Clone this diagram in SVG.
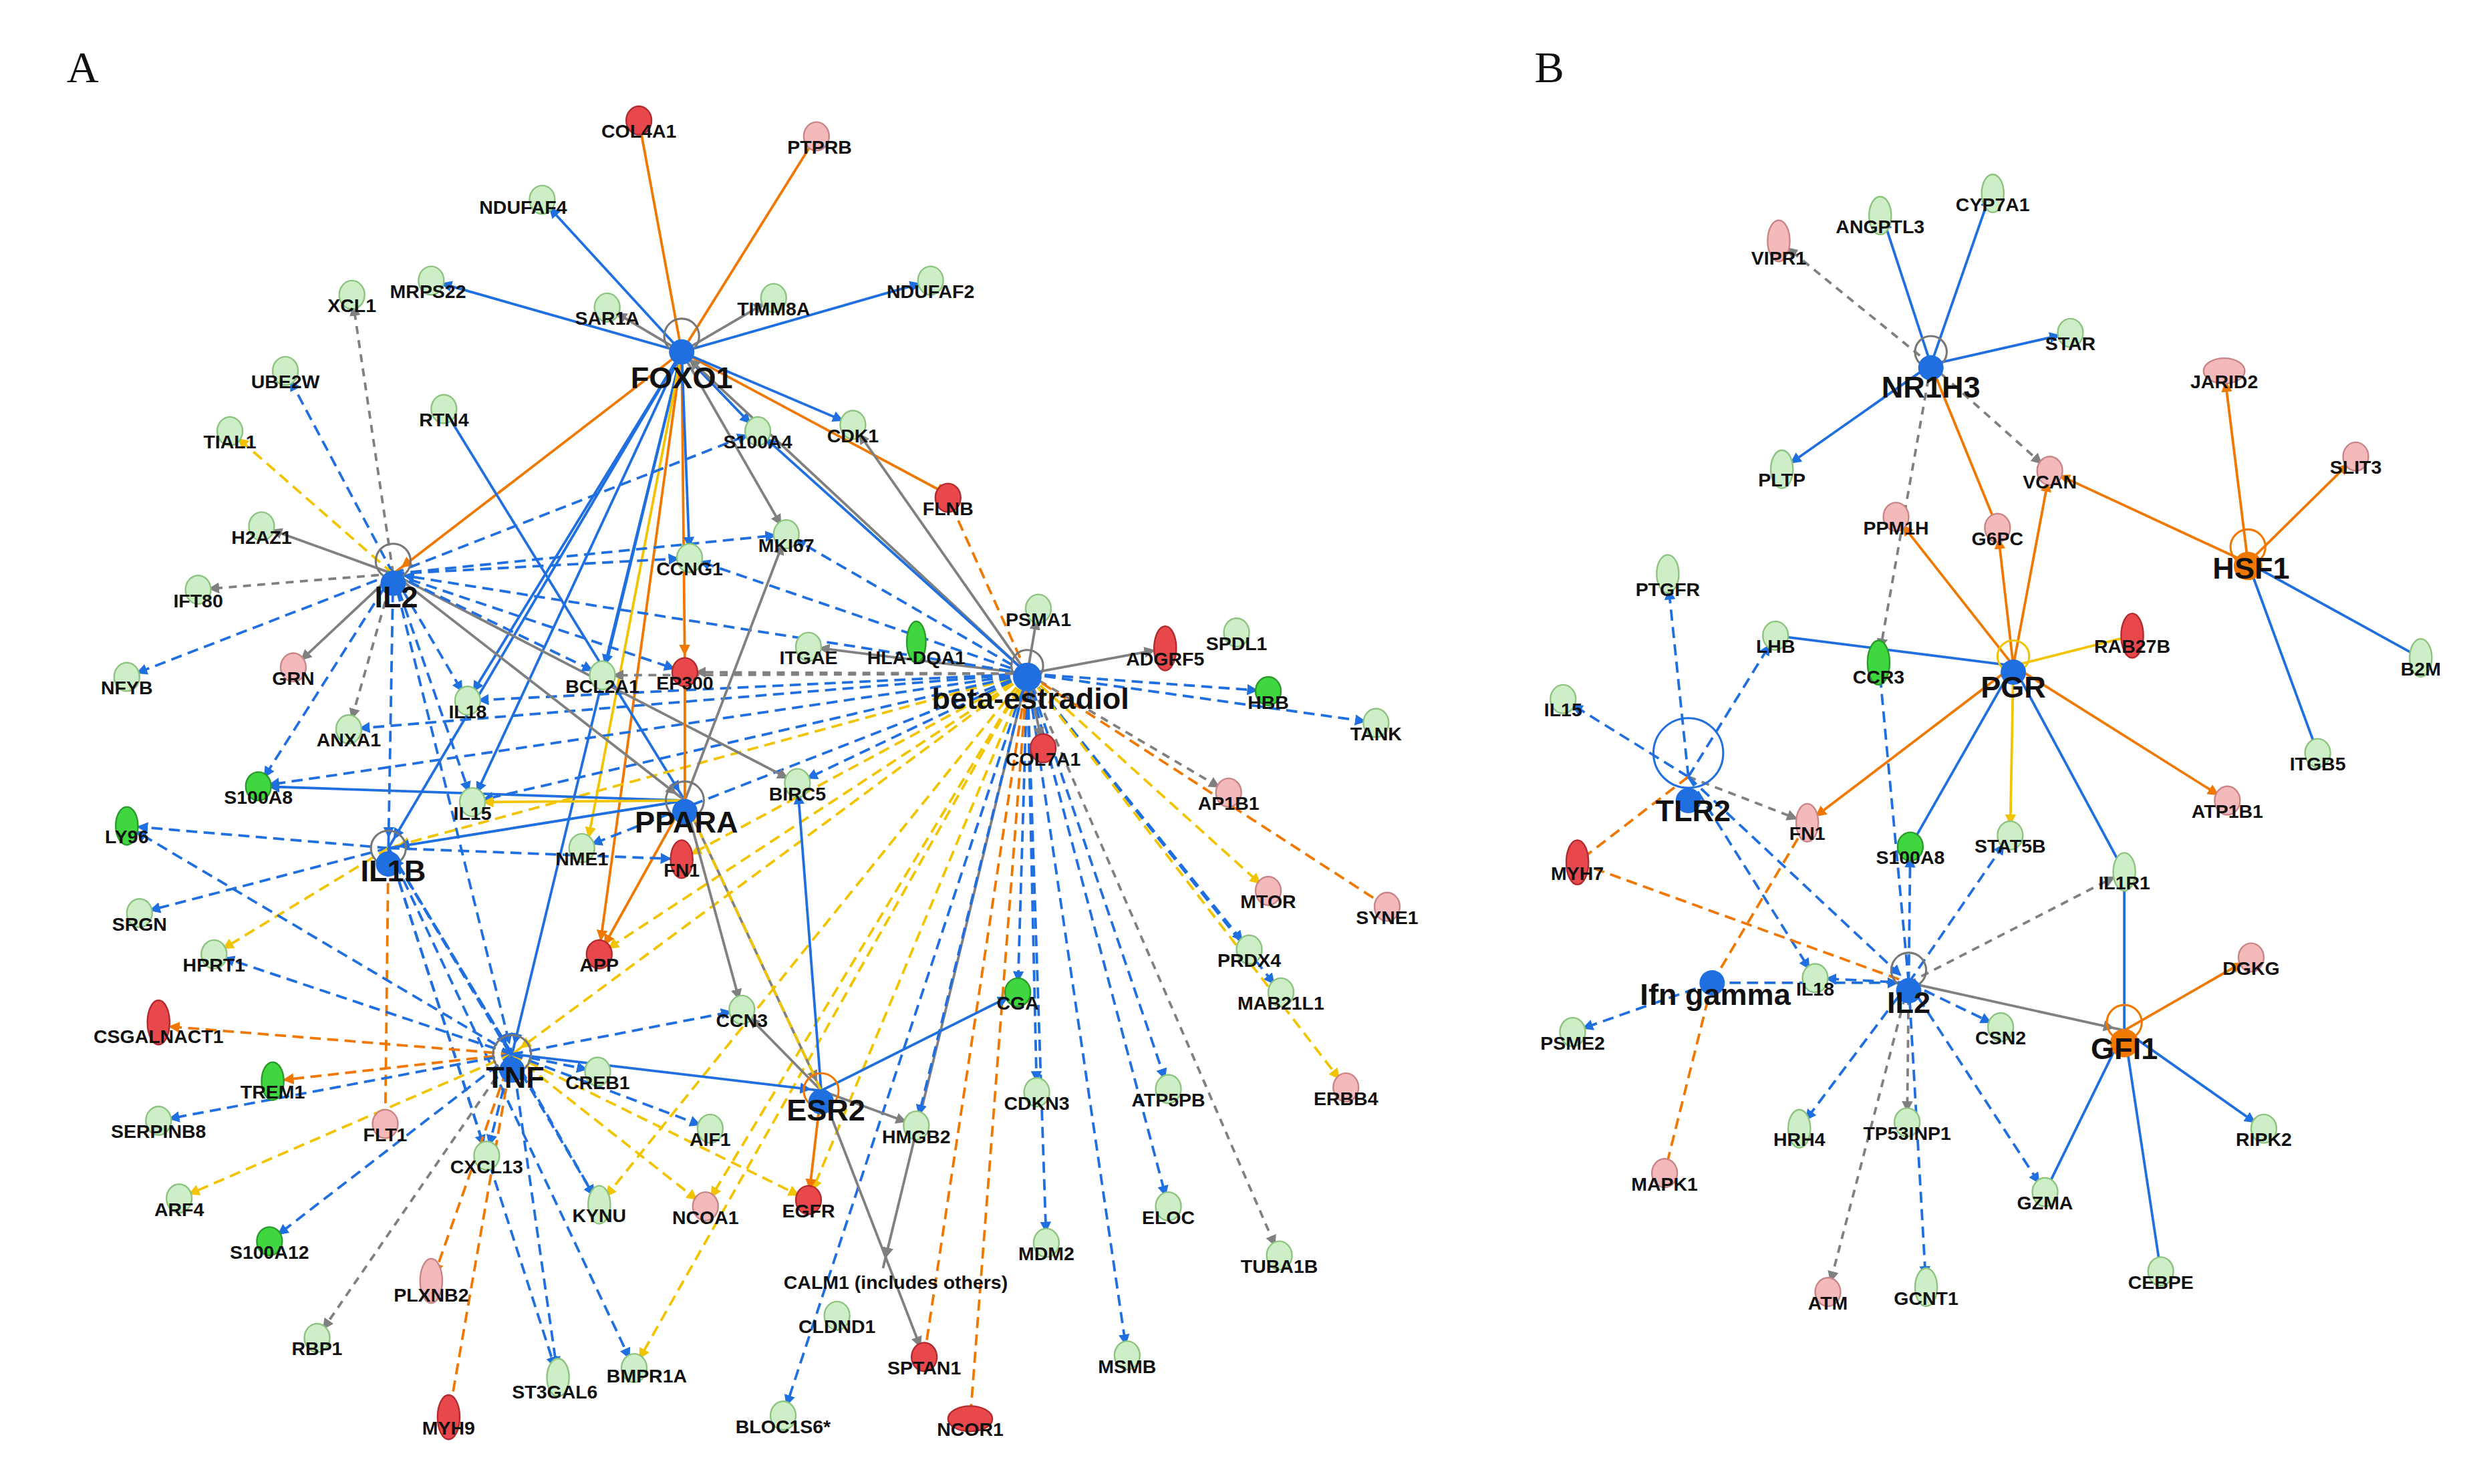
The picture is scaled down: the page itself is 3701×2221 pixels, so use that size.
<svg xmlns="http://www.w3.org/2000/svg" width="3701" height="2221" viewBox="0 0 3701 2221">
<style>
text{font-family:"Liberation Sans",Arial,sans-serif;font-weight:bold;font-size:12px;fill:#111;text-anchor:middle}
.hl{font-size:19px}
.pl{font-family:"Liberation Serif",serif;font-weight:normal;font-size:28px;text-anchor:start}
path{fill:none;stroke-width:1.6}
.b{stroke:#1f6fe0}.bd{stroke:#1f6fe0;stroke-dasharray:7 4}
.o{stroke:#f07800}.od{stroke:#f07800;stroke-dasharray:7 4}
.y{stroke:#f2c400;stroke-dasharray:7 4}.ys{stroke:#f2c400}
.g{stroke:#808080}.gd{stroke:#808080;stroke-dasharray:5 4}
.ab{marker-end:url(#ab)}.ag{marker-end:url(#ag)}.ao{marker-end:url(#ao)}.ay{marker-end:url(#ay)}
.tb{marker-end:url(#tb)}.to{marker-end:url(#to)}
.lg ellipse{fill:#cdeec6;stroke:#8cc47f}.gr ellipse{fill:#3fd63f;stroke:#2a9a2a}
.r ellipse{fill:#e8474c;stroke:#b02a2e}.p ellipse{fill:#f4b9bb;stroke:#c98486}
.hb circle{fill:#1f6fe0}.ho circle{fill:#f07800}
.loop{fill:none;stroke:#777;stroke-width:1.3}
.hb .loop,.ho .loop{fill:none}
</style>
<defs>
<marker id="ab" viewBox="0 0 10 10" refX="19" refY="5" markerWidth="7" markerHeight="7" markerUnits="userSpaceOnUse" orient="auto"><path d="M0 0L10 5L0 10z" style="fill:#1f6fe0;stroke:none"/></marker>
<marker id="ag" viewBox="0 0 10 10" refX="19" refY="5" markerWidth="7" markerHeight="7" markerUnits="userSpaceOnUse" orient="auto"><path d="M0 0L10 5L0 10z" style="fill:#808080;stroke:none"/></marker>
<marker id="ao" viewBox="0 0 10 10" refX="19" refY="5" markerWidth="7" markerHeight="7" markerUnits="userSpaceOnUse" orient="auto"><path d="M0 0L10 5L0 10z" style="fill:#f07800;stroke:none"/></marker>
<marker id="ay" viewBox="0 0 10 10" refX="19" refY="5" markerWidth="7" markerHeight="7" markerUnits="userSpaceOnUse" orient="auto"><path d="M0 0L10 5L0 10z" style="fill:#f2c400;stroke:none"/></marker>
<marker id="tb" viewBox="0 0 10 10" refX="19" refY="5" markerWidth="7" markerHeight="7" markerUnits="userSpaceOnUse" orient="auto"><path d="M9 0V10" style="stroke:#1f6fe0;stroke-width:2"/></marker>
<marker id="to" viewBox="0 0 10 10" refX="19" refY="5" markerWidth="7" markerHeight="7" markerUnits="userSpaceOnUse" orient="auto"><path d="M9 0V10" style="stroke:#f07800;stroke-width:2"/></marker>
</defs>
<rect width="3701" height="2221" fill="#fff"/>
<g transform="scale(2.3725)">
<text class="pl" x="42" y="52">A</text>
<text class="pl" x="968" y="52">B</text>
<g id="connectors">
<path class="o to" d="M430 222L403 76"/><path class="o to" d="M430 222L515 86"/><path class="o to" d="M430 222L598 312"/>
<path class="o ao" d="M430 222L248 362"/><path class="o ao" d="M430 222L432 420"/><path class="o ao" d="M430 222L378 600"/>
<path class="b ab" d="M430 222L342 126"/><path class="b ab" d="M430 222L272 177"/><path class="b ab" d="M430 222L587 177"/>
<path class="b ab" d="M430 222L538 268"/><path class="b ab" d="M430 222L478 272"/><path class="g ag" d="M430 222L488 188"/><path class="g ag" d="M430 222L383 194"/>
<path class="b ab" d="M430 222L245 535"/><path class="b ab" d="M430 222L295 442"/><path class="b ab" d="M430 222L298 506"/><path class="b ab" d="M430 222L323 665"/>
<path class="b ab" d="M430 222L380 426"/><path class="g ag" d="M430 222L496 337"/><path class="b ab" d="M430 222L435 352"/><path class="ys ay" d="M430 222L370 535"/>
<path class="b ab" d="M280 258L432 505"/>
<path class="g ag" d="M648 425L430 222"/><path class="g ag" d="M648 425L538 268"/><path class="g ag" d="M648 425L655 384"/><path class="g ag" d="M648 425L510 408"/>
<path class="gd ag" d="M648 425L380 426"/><path class="b ab" d="M648 425L478 272"/><path class="bd ab" d="M648 425L800 436"/><path class="bd ab" d="M648 425L868 456"/>
<path class="g ag" d="M648 425L735 409"/><path class="gd ag" d="M648 425L775 500"/><path class="y ay" d="M648 425L800 562"/><path class="od to" d="M648 425L875 572"/>
<path class="bd ab" d="M648 425L788 599"/><path class="bd ab" d="M648 425L808 626"/><path class="y ay" d="M648 425L849 686"/><path class="gd ag" d="M648 425L807 792"/>
<path class="bd ab" d="M648 425L737 687"/><path class="bd ab" d="M648 425L737 761"/><path class="bd ab" d="M648 425L660 784"/><path class="bd ab" d="M648 425L654 689"/>
<path class="bd ab" d="M648 425L711 855"/><path class="bd ab" d="M648 425L642 626"/><path class="od to" d="M648 425L612 895"/><path class="od to" d="M648 425L583 856"/>
<path class="g ag" d="M648 425L557 800"/><path class="bd ab" d="M648 425L494 893"/><path class="bd ab" d="M648 425L578 710"/><path class="y ay" d="M648 425L445 761"/>
<path class="y ay" d="M648 425L510 757"/><path class="y ay" d="M648 425L378 760"/><path class="y ay" d="M648 425L400 863"/><path class="y ay" d="M648 425L323 665"/>
<path class="y ay" d="M648 425L245 535"/><path class="y ay" d="M648 425L378 602"/><path class="y ay" d="M648 425L430 542"/><path class="bd ab" d="M648 425L298 506"/>
<path class="bd ab" d="M648 425L295 442"/><path class="bd ab" d="M648 425L220 460"/><path class="bd ab" d="M648 425L367 535"/><path class="bd ab" d="M648 425L503 494"/>
<path class="bd ab" d="M648 425L248 362"/><path class="bd ab" d="M648 425L435 352"/><path class="bd ab" d="M648 425L496 337"/><path class="od to" d="M648 425L598 314"/>
<path class="g ag" d="M648 425L658 472"/><path class="gd ag" d="M648 425L432 424"/><path class="bd ab" d="M648 425L163 496"/>
<path class="gd ag" d="M248 362L222 186"/><path class="bd ab" d="M248 362L180 234"/><path class="y ay" d="M248 362L145 272"/><path class="g ag" d="M248 362L165 332"/>
<path class="gd ag" d="M248 362L125 372"/><path class="g ag" d="M248 362L185 421"/><path class="bd ab" d="M248 362L80 427"/><path class="bd ab" d="M248 362L163 496"/>
<path class="gd ag" d="M248 362L220 460"/><path class="bd ab" d="M248 362L245 535"/><path class="bd ab" d="M248 362L295 442"/><path class="bd ab" d="M248 362L298 506"/>
<path class="bd ab" d="M248 362L435 352"/><path class="bd ab" d="M248 362L496 337"/><path class="g ag" d="M248 362L432 505"/><path class="g ag" d="M248 362L503 494"/>
<path class="bd ab" d="M248 362L323 665"/><path class="bd ab" d="M248 362L478 272"/><path class="bd ab" d="M248 362L432 424"/><path class="bd ab" d="M248 362L380 426"/>
<path class="b ab" d="M432 505L163 496"/><path class="b ab" d="M432 505L245 535"/><path class="g ag" d="M432 505L496 337"/><path class="g ag" d="M432 505L518 688"/>
<path class="g ag" d="M432 505L468 637"/><path class="o ao" d="M432 505L378 602"/><path class="o to" d="M432 505L432 420"/><path class="ys ay" d="M432 505L298 506"/>
<path class="bd ab" d="M245 535L80 521"/><path class="bd ab" d="M245 535L88 576"/><path class="y ay" d="M245 535L135 602"/><path class="bd ab" d="M245 535L323 665"/>
<path class="od to" d="M245 535L243 709"/><path class="bd ab" d="M245 535L307 729"/><path class="bd ab" d="M245 535L378 760"/><path class="bd ab" d="M245 535L352 869"/>
<path class="bd ab" d="M245 535L400 863"/><path class="bd ab" d="M245 535L430 542"/>
<path class="od ao" d="M323 665L100 647"/><path class="od ao" d="M323 665L172 682"/><path class="bd ab" d="M323 665L100 707"/><path class="y ay" d="M323 665L113 756"/>
<path class="bd ab" d="M323 665L170 783"/><path class="gd ag" d="M323 665L200 844"/><path class="od to" d="M323 665L283 894"/><path class="od ao" d="M323 665L272 810"/>
<path class="bd ab" d="M323 665L307 729"/><path class="bd ab" d="M323 665L378 760"/><path class="bd ab" d="M323 665L352 869"/><path class="y ay" d="M323 665L445 761"/>
<path class="y ay" d="M323 665L510 757"/><path class="bd ab" d="M323 665L448 712"/><path class="bd ab" d="M323 665L377 676"/><path class="bd ab" d="M323 665L468 637"/>
<path class="bd ab" d="M323 665L135 602"/><path class="bd ab" d="M323 665L245 535"/><path class="b ab" d="M323 665L518 688"/><path class="bd ab" d="M323 665L80 521"/>
<path class="o ao" d="M518 688L510 757"/><path class="g ag" d="M518 688L583 856"/><path class="g ag" d="M518 688L468 637"/><path class="b ab" d="M518 688L642 626"/>
<path class="b ab" d="M518 688L503 494"/><path class="y ay" d="M518 688L432 505"/><path class="g ag" d="M518 688L578 710"/>
<path class="gd ag" d="M1218 230L1122 152"/><path class="b ab" d="M1218 230L1186 132"/><path class="b ab" d="M1218 230L1257 118"/><path class="b ab" d="M1218 230L1306 210"/>
<path class="b ab" d="M1218 230L1124 296"/><path class="o to" d="M1218 230L1260 333"/><path class="gd ag" d="M1218 230L1293 297"/><path class="gd ag" d="M1218 230L1185 416"/>
<path class="o ao" d="M1418 355L1403 234"/><path class="o ao" d="M1418 355L1486 288"/><path class="o ao" d="M1418 355L1293 297"/><path class="b" d="M1418 355L1527 415"/><path class="b tb" d="M1418 355L1462 475"/>
<path class="o ao" d="M1270 420L1196 326"/><path class="o ao" d="M1270 420L1260 333"/><path class="o ao" d="M1270 420L1293 297"/><path class="ys" d="M1270 420L1345 401"/>
<path class="o ao" d="M1270 420L1405 505"/><path class="ys ay" d="M1270 420L1268 527"/><path class="b tb" d="M1270 420L1340 550"/><path class="b tb" d="M1270 420L1205 534"/>
<path class="o ao" d="M1270 420L1140 519"/><path class="b" d="M1270 420L1120 401"/>
<path class="bd ab" d="M1065 490L1052 365"/><path class="bd ab" d="M1065 490L986 441"/><path class="bd ab" d="M1065 490L1120 401"/><path class="gd ag" d="M1065 490L1140 519"/>
<path class="od" d="M1065 490L995 544"/><path class="bd ab" d="M1065 490L1145 617"/><path class="bd ab" d="M1065 490L1204 620"/>
<path class="bd ab" d="M1080 620L992 651"/><path class="od to" d="M1080 620L1050 740"/><path class="od to" d="M1080 620L1140 519"/><path class="od" d="M995 544L1204 620"/><path class="bd ab" d="M1080 620L1204 620"/>
<path class="bd ab" d="M1204 620L1185 416"/><path class="bd ab" d="M1204 620L1205 534"/><path class="bd ab" d="M1204 620L1268 527"/><path class="gd ag" d="M1204 620L1340 550"/>
<path class="bd ab" d="M1204 620L1262 648"/><path class="g ag" d="M1204 620L1340 650"/><path class="bd ab" d="M1204 620L1135 712"/><path class="gd ag" d="M1204 620L1203 708"/>
<path class="gd ag" d="M1204 620L1153 815"/><path class="bd ab" d="M1204 620L1215 812"/><path class="bd ab" d="M1204 620L1290 752"/><path class="bd ab" d="M1204 620L1145 617"/>
<path class="o ao" d="M1340 650L1420 604"/><path class="b tb" d="M1340 650L1340 550"/><path class="b ab" d="M1340 650L1428 712"/><path class="b tb" d="M1340 650L1290 752"/><path class="b tb" d="M1340 650L1363 802"/>
</g>
<g id="nodes">
<g id="n-COL4A1" class="r"><ellipse cx="403" cy="76" rx="8" ry="9"/><text x="403" y="87">COL4A1</text></g>
<g id="n-PTPRB" class="p"><ellipse cx="515" cy="86" rx="8" ry="9"/><text x="517" y="97">PTPRB</text></g>
<g id="n-NDUFAF4" class="lg"><ellipse cx="342" cy="126" rx="8" ry="9"/><text x="330" y="135">NDUFAF4</text></g>
<g id="n-MRPS22" class="lg"><ellipse cx="272" cy="177" rx="8" ry="9"/><text x="270" y="188">MRPS22</text></g>
<g id="n-SAR1A" class="lg"><ellipse cx="383" cy="194" rx="8" ry="9"/><text x="383" y="205">SAR1A</text></g>
<g id="n-TIMM8A" class="lg"><ellipse cx="488" cy="188" rx="8" ry="9"/><text x="488" y="199">TIMM8A</text></g>
<g id="n-NDUFAF2" class="lg"><ellipse cx="587" cy="177" rx="8" ry="9"/><text x="587" y="188">NDUFAF2</text></g>
<g id="n-XCL1" class="lg"><ellipse cx="222" cy="186" rx="8" ry="9"/><text x="222" y="197">XCL1</text></g>
<g id="n-UBE2W" class="lg"><ellipse cx="180" cy="234" rx="8" ry="9"/><text x="180" y="245">UBE2W</text></g>
<g id="n-RTN4" class="lg"><ellipse cx="280" cy="258" rx="8" ry="9"/><text x="280" y="269">RTN4</text></g>
<g id="n-S100A4" class="lg"><ellipse cx="478" cy="272" rx="8" ry="9"/><text x="478" y="283">S100A4</text></g>
<g id="n-CDK1" class="lg"><ellipse cx="538" cy="268" rx="8" ry="9"/><text x="538" y="279">CDK1</text></g>
<g id="n-TIAL1" class="lg"><ellipse cx="145" cy="272" rx="8" ry="9"/><text x="145" y="283">TIAL1</text></g>
<g id="n-FLNB" class="r"><ellipse cx="598" cy="314" rx="8" ry="9"/><text x="598" y="325">FLNB</text></g>
<g id="n-H2AZ1" class="lg"><ellipse cx="165" cy="332" rx="8" ry="9"/><text x="165" y="343">H2AZ1</text></g>
<g id="n-CCNG1" class="lg"><ellipse cx="435" cy="352" rx="8" ry="9"/><text x="435" y="363">CCNG1</text></g>
<g id="n-MKI67" class="lg"><ellipse cx="496" cy="337" rx="8" ry="9"/><text x="496" y="348">MKI67</text></g>
<g id="n-PSMA1" class="lg"><ellipse cx="655" cy="384" rx="8" ry="9"/><text x="655" y="395">PSMA1</text></g>
<g id="n-IFT80" class="lg"><ellipse cx="125" cy="372" rx="8" ry="9"/><text x="125" y="383">IFT80</text></g>
<g id="n-ADGRF5" class="r"><ellipse cx="735" cy="409" rx="7" ry="14"/><text x="735" y="420">ADGRF5</text></g>
<g id="n-SPDL1" class="lg"><ellipse cx="780" cy="399" rx="8" ry="9"/><text x="780" y="410">SPDL1</text></g>
<g id="n-GRN" class="p"><ellipse cx="185" cy="421" rx="8" ry="9"/><text x="185" y="432">GRN</text></g>
<g id="n-IL18" class="lg"><ellipse cx="295" cy="442" rx="8" ry="9"/><text x="295" y="453">IL18</text></g>
<g id="n-BCL2A1" class="lg"><ellipse cx="380" cy="426" rx="8" ry="9"/><text x="380" y="437">BCL2A1</text></g>
<g id="n-EP300" class="r"><ellipse cx="432" cy="424" rx="8" ry="9"/><text x="432" y="435">EP300</text></g>
<g id="n-ITGAE" class="lg"><ellipse cx="510" cy="408" rx="8" ry="9"/><text x="510" y="419">ITGAE</text></g>
<g id="n-HLA-DQA1" class="gr"><ellipse cx="578" cy="405" rx="6" ry="13"/><text x="578" y="419">HLA-DQA1</text></g>
<g id="n-HBB" class="gr"><ellipse cx="800" cy="436" rx="8" ry="9"/><text x="800" y="447">HBB</text></g>
<g id="n-TANK" class="lg"><ellipse cx="868" cy="456" rx="8" ry="9"/><text x="868" y="467">TANK</text></g>
<g id="n-NFYB" class="lg"><ellipse cx="80" cy="427" rx="8" ry="9"/><text x="80" y="438">NFYB</text></g>
<g id="n-ANXA1" class="lg"><ellipse cx="220" cy="460" rx="8" ry="9"/><text x="220" y="471">ANXA1</text></g>
<g id="n-COL7A1" class="r"><ellipse cx="658" cy="472" rx="8" ry="9"/><text x="658" y="483">COL7A1</text></g>
<g id="n-S100A8" class="gr"><ellipse cx="163" cy="496" rx="8" ry="9"/><text x="163" y="507">S100A8</text></g>
<g id="n-IL15" class="lg"><ellipse cx="298" cy="506" rx="8" ry="9"/><text x="298" y="517">IL15</text></g>
<g id="n-BIRC5" class="lg"><ellipse cx="503" cy="494" rx="8" ry="9"/><text x="503" y="505">BIRC5</text></g>
<g id="n-AP1B1" class="p"><ellipse cx="775" cy="500" rx="8" ry="9"/><text x="775" y="511">AP1B1</text></g>
<g id="n-LY96" class="gr"><ellipse cx="80" cy="521" rx="7" ry="12"/><text x="80" y="532">LY96</text></g>
<g id="n-NME1" class="lg"><ellipse cx="367" cy="535" rx="8" ry="9"/><text x="367" y="546">NME1</text></g>
<g id="n-FN1" class="r"><ellipse cx="430" cy="542" rx="7" ry="12"/><text x="430" y="553">FN1</text></g>
<g id="n-MTOR" class="p"><ellipse cx="800" cy="562" rx="8" ry="9"/><text x="800" y="573">MTOR</text></g>
<g id="n-SYNE1" class="p"><ellipse cx="875" cy="572" rx="8" ry="9"/><text x="875" y="583">SYNE1</text></g>
<g id="n-SRGN" class="lg"><ellipse cx="88" cy="576" rx="8" ry="9"/><text x="88" y="587">SRGN</text></g>
<g id="n-HPRT1" class="lg"><ellipse cx="135" cy="602" rx="8" ry="9"/><text x="135" y="613">HPRT1</text></g>
<g id="n-APP" class="r"><ellipse cx="378" cy="602" rx="8" ry="9"/><text x="378" y="613">APP</text></g>
<g id="n-PRDX4" class="lg"><ellipse cx="788" cy="599" rx="8" ry="9"/><text x="788" y="610">PRDX4</text></g>
<g id="n-MAB21L1" class="lg"><ellipse cx="808" cy="626" rx="8" ry="9"/><text x="808" y="637">MAB21L1</text></g>
<g id="n-CSGALNACT1" class="r"><ellipse cx="100" cy="645" rx="7" ry="14"/><text x="100" y="658">CSGALNACT1</text></g>
<g id="n-CCN3" class="lg"><ellipse cx="468" cy="637" rx="8" ry="9"/><text x="468" y="648">CCN3</text></g>
<g id="n-CGA" class="gr"><ellipse cx="642" cy="626" rx="8" ry="9"/><text x="642" y="637">CGA</text></g>
<g id="n-CREB1" class="lg"><ellipse cx="377" cy="676" rx="8" ry="9"/><text x="377" y="687">CREB1</text></g>
<g id="n-TREM1" class="gr"><ellipse cx="172" cy="682" rx="7" ry="12"/><text x="172" y="693">TREM1</text></g>
<g id="n-SERPINB8" class="lg"><ellipse cx="100" cy="707" rx="8" ry="9"/><text x="100" y="718">SERPINB8</text></g>
<g id="n-FLT1" class="p"><ellipse cx="243" cy="709" rx="8" ry="9"/><text x="243" y="720">FLT1</text></g>
<g id="n-AIF1" class="lg"><ellipse cx="448" cy="712" rx="8" ry="9"/><text x="448" y="723">AIF1</text></g>
<g id="n-HMGB2" class="lg"><ellipse cx="578" cy="710" rx="8" ry="9"/><text x="578" y="721">HMGB2</text></g>
<g id="n-CDKN3" class="lg"><ellipse cx="654" cy="689" rx="8" ry="9"/><text x="654" y="700">CDKN3</text></g>
<g id="n-ATP5PB" class="lg"><ellipse cx="737" cy="687" rx="8" ry="9"/><text x="737" y="698">ATP5PB</text></g>
<g id="n-ERBB4" class="p"><ellipse cx="849" cy="686" rx="8" ry="9"/><text x="849" y="697">ERBB4</text></g>
<g id="n-CXCL13" class="lg"><ellipse cx="307" cy="729" rx="8" ry="9"/><text x="307" y="740">CXCL13</text></g>
<g id="n-ARF4" class="lg"><ellipse cx="113" cy="756" rx="8" ry="9"/><text x="113" y="767">ARF4</text></g>
<g id="n-KYNU" class="lg"><ellipse cx="378" cy="760" rx="7" ry="12"/><text x="378" y="771">KYNU</text></g>
<g id="n-NCOA1" class="p"><ellipse cx="445" cy="761" rx="8" ry="9"/><text x="445" y="772">NCOA1</text></g>
<g id="n-EGFR" class="r"><ellipse cx="510" cy="757" rx="8" ry="9"/><text x="510" y="768">EGFR</text></g>
<g id="n-ELOC" class="lg"><ellipse cx="737" cy="761" rx="8" ry="9"/><text x="737" y="772">ELOC</text></g>
<g id="n-MDM2" class="lg"><ellipse cx="660" cy="784" rx="8" ry="9"/><text x="660" y="795">MDM2</text></g>
<g id="n-S100A12" class="gr"><ellipse cx="170" cy="783" rx="8" ry="9"/><text x="170" y="794">S100A12</text></g>
<g id="n-TUBA1B" class="lg"><ellipse cx="807" cy="792" rx="8" ry="9"/><text x="807" y="803">TUBA1B</text></g>
<g id="n-CALM1" class="lg"><text x="565" y="813">CALM1 (includes others)</text></g>
<g id="n-PLXNB2" class="p"><ellipse cx="272" cy="808" rx="7" ry="14"/><text x="272" y="821">PLXNB2</text></g>
<g id="n-CLDND1" class="lg"><ellipse cx="528" cy="830" rx="8" ry="9"/><text x="528" y="841">CLDND1</text></g>
<g id="n-RBP1" class="lg"><ellipse cx="200" cy="844" rx="8" ry="9"/><text x="200" y="855">RBP1</text></g>
<g id="n-SPTAN1" class="r"><ellipse cx="583" cy="856" rx="8" ry="9"/><text x="583" y="867">SPTAN1</text></g>
<g id="n-MSMB" class="lg"><ellipse cx="711" cy="855" rx="8" ry="9"/><text x="711" y="866">MSMB</text></g>
<g id="n-ST3GAL6" class="lg"><ellipse cx="352" cy="869" rx="7" ry="12"/><text x="350" y="882">ST3GAL6</text></g>
<g id="n-BMPR1A" class="lg"><ellipse cx="400" cy="863" rx="8" ry="9"/><text x="408" y="872">BMPR1A</text></g>
<g id="n-BLOC1S6" class="lg"><ellipse cx="494" cy="893" rx="8" ry="9"/><text x="494" y="904">BLOC1S6*</text></g>
<g id="n-NCOR1" class="r"><ellipse cx="612" cy="895" rx="14" ry="8"/><text x="612" y="906">NCOR1</text></g>
<g id="n-MYH9" class="r"><ellipse cx="283" cy="894" rx="7" ry="14"/><text x="283" y="905">MYH9</text></g>
<g id="n-FOXO1" class="hb"><circle class="loop" cx="430" cy="212" r="11"/><circle cx="430" cy="222" r="8"/><text class="hl" x="430" y="245">FOXO1</text></g>
<g id="n-IL2A" class="hb"><circle class="loop" cx="248" cy="354" r="11"/><circle cx="248" cy="368" r="8"/><text class="hl" x="250" y="383">IL2</text></g>
<g id="n-beta-estradiol" class="hb"><circle class="loop" cx="648" cy="420" r="10"/><circle cx="648" cy="427" r="9"/><text class="hl" x="650" y="447">beta-estradiol</text></g>
<g id="n-PPARA" class="hb"><circle class="loop" cx="432" cy="505" r="12"/><circle cx="432" cy="512" r="8"/><text class="hl" x="433" y="525">PPARA</text></g>
<g id="n-IL1B" class="hb"><circle class="loop" cx="245" cy="535" r="11"/><circle cx="245" cy="545" r="8"/><text class="hl" x="248" y="556">IL1B</text></g>
<g id="n-TNF" class="hb"><circle class="loop" cx="323" cy="665" r="12"/><circle cx="323" cy="675" r="8"/><text class="hl" x="325" y="686">TNF</text></g>
<g id="n-ESR2" class="hb"><circle class="loop" cx="518" cy="688" r="11" style="stroke:#f07800"/><circle cx="518" cy="695" r="8"/><text class="hl" x="521" y="707">ESR2</text></g>
<g id="n-VIPR1" class="p"><ellipse cx="1122" cy="152" rx="7" ry="13"/><text x="1122" y="167">VIPR1</text></g>
<g id="n-ANGPTL3" class="lg"><ellipse cx="1186" cy="136" rx="7" ry="12"/><text x="1186" y="147">ANGPTL3</text></g>
<g id="n-CYP7A1" class="lg"><ellipse cx="1257" cy="122" rx="7" ry="12"/><text x="1257" y="133">CYP7A1</text></g>
<g id="n-STAR" class="lg"><ellipse cx="1306" cy="210" rx="8" ry="9"/><text x="1306" y="221">STAR</text></g>
<g id="n-JARID2" class="p"><ellipse cx="1403" cy="234" rx="13" ry="8"/><text x="1403" y="245">JARID2</text></g>
<g id="n-SLIT3" class="p"><ellipse cx="1486" cy="288" rx="8" ry="9"/><text x="1486" y="299">SLIT3</text></g>
<g id="n-PLTP" class="lg"><ellipse cx="1124" cy="296" rx="7" ry="12"/><text x="1124" y="307">PLTP</text></g>
<g id="n-VCAN" class="p"><ellipse cx="1293" cy="297" rx="8" ry="9"/><text x="1293" y="308">VCAN</text></g>
<g id="n-PPM1H" class="p"><ellipse cx="1196" cy="326" rx="8" ry="9"/><text x="1196" y="337">PPM1H</text></g>
<g id="n-G6PC" class="p"><ellipse cx="1260" cy="333" rx="8" ry="9"/><text x="1260" y="344">G6PC</text></g>
<g id="n-PTGFR" class="lg"><ellipse cx="1052" cy="362" rx="7" ry="12"/><text x="1052" y="376">PTGFR</text></g>
<g id="n-LHB" class="lg"><ellipse cx="1120" cy="401" rx="8" ry="9"/><text x="1120" y="412">LHB</text></g>
<g id="n-CCR3" class="gr"><ellipse cx="1185" cy="418" rx="7" ry="14"/><text x="1185" y="431">CCR3</text></g>
<g id="n-RAB27B" class="r"><ellipse cx="1345" cy="401" rx="7" ry="14"/><text x="1345" y="412">RAB27B</text></g>
<g id="n-B2M" class="lg"><ellipse cx="1527" cy="415" rx="7" ry="12"/><text x="1527" y="426">B2M</text></g>
<g id="n-IL15B" class="lg"><ellipse cx="986" cy="441" rx="8" ry="9"/><text x="986" y="452">IL15</text></g>
<g id="n-FN1B" class="p"><ellipse cx="1140" cy="519" rx="7" ry="12"/><text x="1140" y="530">FN1</text></g>
<g id="n-ATP1B1" class="p"><ellipse cx="1405" cy="505" rx="8" ry="9"/><text x="1405" y="516">ATP1B1</text></g>
<g id="n-ITGB5" class="lg"><ellipse cx="1462" cy="475" rx="8" ry="9"/><text x="1462" y="486">ITGB5</text></g>
<g id="n-S100A8B" class="gr"><ellipse cx="1205" cy="534" rx="8" ry="9"/><text x="1205" y="545">S100A8</text></g>
<g id="n-STAT5B" class="lg"><ellipse cx="1268" cy="527" rx="8" ry="9"/><text x="1268" y="538">STAT5B</text></g>
<g id="n-IL1R1" class="lg"><ellipse cx="1340" cy="550" rx="7" ry="12"/><text x="1340" y="561">IL1R1</text></g>
<g id="n-MYH7" class="r"><ellipse cx="995" cy="544" rx="7" ry="14"/><text x="995" y="555">MYH7</text></g>
<g id="n-DGKG" class="p"><ellipse cx="1420" cy="604" rx="8" ry="9"/><text x="1420" y="615">DGKG</text></g>
<g id="n-IL18B" class="lg"><ellipse cx="1145" cy="617" rx="8" ry="9"/><text x="1145" y="628">IL18</text></g>
<g id="n-CSN2" class="lg"><ellipse cx="1262" cy="648" rx="8" ry="9"/><text x="1262" y="659">CSN2</text></g>
<g id="n-PSME2" class="lg"><ellipse cx="992" cy="651" rx="8" ry="9"/><text x="992" y="662">PSME2</text></g>
<g id="n-HRH4" class="lg"><ellipse cx="1135" cy="712" rx="7" ry="12"/><text x="1135" y="723">HRH4</text></g>
<g id="n-TP53INP1" class="lg"><ellipse cx="1203" cy="708" rx="8" ry="9"/><text x="1203" y="719">TP53INP1</text></g>
<g id="n-RIPK2" class="lg"><ellipse cx="1428" cy="712" rx="8" ry="9"/><text x="1428" y="723">RIPK2</text></g>
<g id="n-MAPK1" class="p"><ellipse cx="1050" cy="740" rx="8" ry="9"/><text x="1050" y="751">MAPK1</text></g>
<g id="n-GZMA" class="lg"><ellipse cx="1290" cy="752" rx="8" ry="9"/><text x="1290" y="763">GZMA</text></g>
<g id="n-ATM" class="p"><ellipse cx="1153" cy="815" rx="8" ry="9"/><text x="1153" y="826">ATM</text></g>
<g id="n-GCNT1" class="lg"><ellipse cx="1215" cy="812" rx="7" ry="12"/><text x="1215" y="823">GCNT1</text></g>
<g id="n-CEBPE" class="lg"><ellipse cx="1363" cy="802" rx="8" ry="9"/><text x="1363" y="813">CEBPE</text></g>
<g id="n-NR1H3" class="hb"><circle class="loop" cx="1218" cy="222" r="10"/><circle cx="1218" cy="232" r="8"/><text class="hl" x="1218" y="251">NR1H3</text></g>
<g id="n-HSF1" class="ho"><circle class="loop" cx="1418" cy="345" r="11" style="stroke:#f07800"/><circle cx="1418" cy="357" r="9"/><text class="hl" x="1420" y="365">HSF1</text></g>
<g id="n-PGR" class="hb"><circle class="loop" cx="1270" cy="414" r="10" style="stroke:#f2c400"/><circle cx="1270" cy="424" r="8"/><text class="hl" x="1270" y="440">PGR</text></g>
<g id="n-TLR2" class="hb"><circle class="loop" cx="1065" cy="475" r="22" style="stroke:#1f6fe0"/><circle cx="1065" cy="505" r="8"/><text class="hl" x="1068" y="518">TLR2</text></g>
<g id="n-Ifngamma" class="hb"><circle cx="1080" cy="620" r="8"/><text class="hl" x="1082" y="634">Ifn gamma</text></g>
<g id="n-IL2B" class="hb"><circle class="loop" cx="1204" cy="612" r="11"/><circle cx="1204" cy="625" r="8"/><text class="hl" x="1204" y="639">IL2</text></g>
<g id="n-GFI1" class="ho"><circle class="loop" cx="1340" cy="645" r="11" style="stroke:#f07800"/><circle cx="1340" cy="658" r="9"/><text class="hl" x="1340" y="668">GFI1</text></g>
</g>
</g>
</svg>
